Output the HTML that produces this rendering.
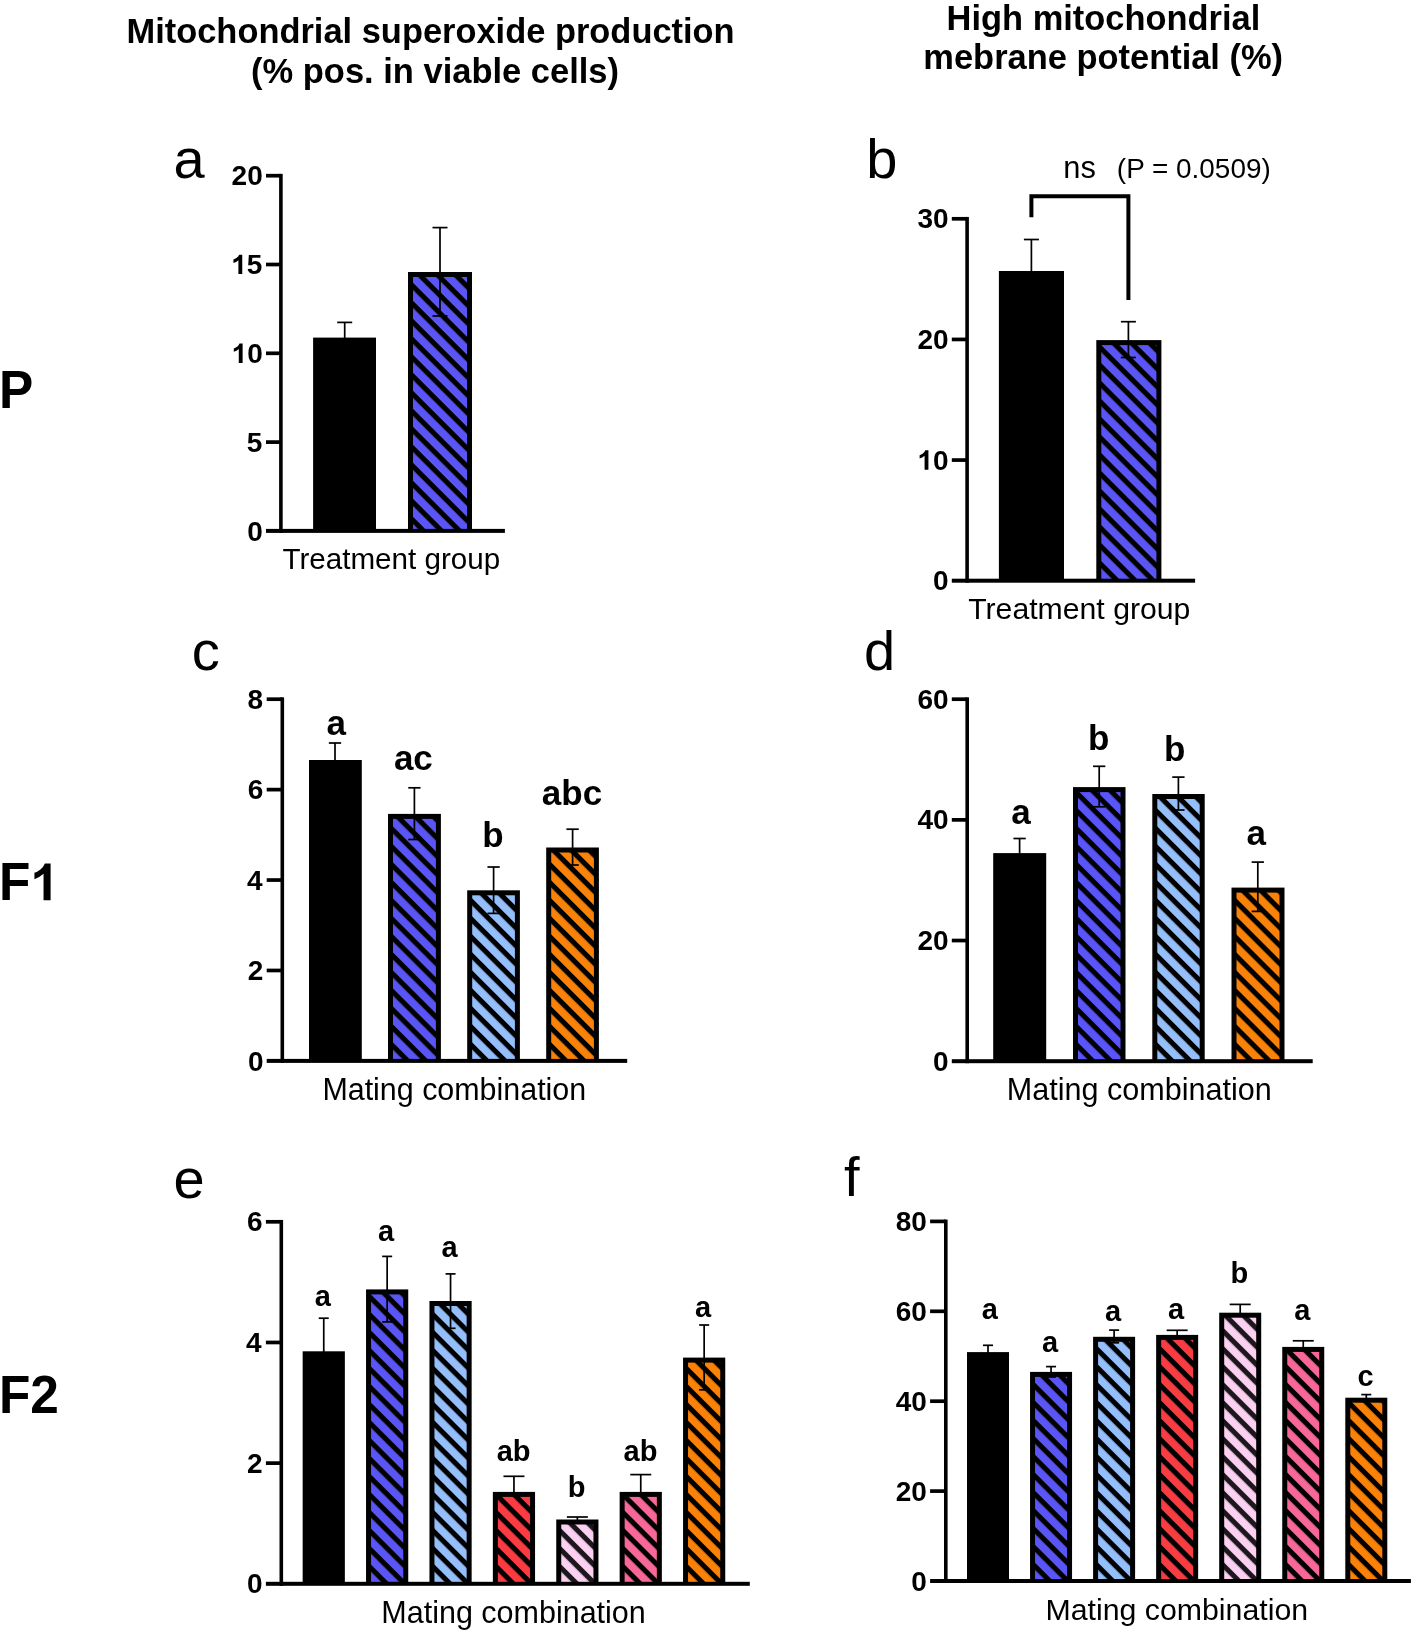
<!DOCTYPE html>
<html><head><meta charset="utf-8"><title>Figure</title>
<style>
html,body{margin:0;padding:0;background:#fff;}
svg{display:block;will-change:transform;}
text{font-family:"Liberation Sans",sans-serif;}
</style></head><body>
<svg width="1416" height="1634" viewBox="0 0 1416 1634">
<rect width="1416" height="1634" fill="#fff"/>
<text x="126.50" y="43.40" font-size="34.44" font-weight="bold" fill="#000">Mitochondrial superoxide production</text>
<text x="251.08" y="82.80" font-size="34.49" font-weight="bold" fill="#000">(% pos. in viable cells)</text>
<text x="946.60" y="29.70" font-size="34.44" font-weight="bold" fill="#000">High mitochondrial</text>
<text x="923.33" y="69.20" font-size="34.45" font-weight="bold" fill="#000">mebrane potential (%)</text>
<g transform="translate(0 407.8) scale(1 1.035) translate(0 -407.8)">
<text x="-1.04" y="407.80" font-size="51.40" font-weight="bold">P</text>
</g>
<g transform="translate(0 900.3) scale(1 1.035) translate(0 -900.3)">
<text x="-1.04" y="900.30" font-size="51.40" font-weight="bold">F</text>
<path transform="translate(30.36 900.30) scale(0.02510 0.02414)" d="M806 0H525V-1059Q371 -915 162 -846V-1101Q272 -1137 401 -1237.5Q530 -1338 578 -1472H806Z"/>
</g>
<g transform="translate(0 1412.9) scale(1 1.035) translate(0 -1412.9)">
<text x="-1.04" y="1412.90" font-size="51.40" font-weight="bold">F2</text>
</g>
<text x="173.59" y="178.00" font-size="56.00" font-weight="normal" fill="#000">a</text>
<text x="866.35" y="178.00" font-size="56.00" font-weight="normal" fill="#000">b</text>
<text x="191.85" y="670.40" font-size="56.00" font-weight="normal" fill="#000">c</text>
<text x="863.91" y="670.00" font-size="56.00" font-weight="normal" fill="#000">d</text>
<text x="173.43" y="1198.20" font-size="56.00" font-weight="normal" fill="#000">e</text>
<text x="843.88" y="1195.60" font-size="56.00" font-weight="normal" fill="#000">f</text>
<rect x="313.10" y="337.60" width="62.90" height="193.30" fill="#000"/>
<rect x="343.85" y="322.40" width="1.70" height="16.20" fill="#000"/>
<rect x="337.20" y="321.55" width="15.00" height="1.70" fill="#000"/>
<rect x="408.00" y="272.00" width="64.00" height="258.90" fill="#000"/>
<pattern id="h1" patternUnits="userSpaceOnUse" width="12.73" height="12.73" patternTransform="rotate(45) translate(0 9.695)"><rect width="12.73" height="12.73" fill="#5955f7"/><rect width="12.73" height="5.1" fill="#000"/></pattern>
<rect x="413.00" y="277.00" width="54.00" height="253.90" fill="url(#h1)"/>
<rect x="439.15" y="227.60" width="1.70" height="88.40" fill="#000"/>
<rect x="432.50" y="226.75" width="15.00" height="1.70" fill="#000"/>
<rect x="432.50" y="315.15" width="15.00" height="1.70" fill="#000"/>
<rect x="279.10" y="173.85" width="3.60" height="359.05" fill="#000"/>
<rect x="266.00" y="528.90" width="238.90" height="4.00" fill="#000"/>
<rect x="266.00" y="173.85" width="14.90" height="3.70" fill="#000"/>
<text x="231.60" y="185.30" font-size="28.00" font-weight="bold">20</text>
<rect x="266.00" y="262.65" width="14.90" height="3.70" fill="#000"/>
<path transform="translate(231.23 274.10) scale(0.01367 0.01315)" d="M806 0H525V-1059Q371 -915 162 -846V-1101Q272 -1137 401 -1237.5Q530 -1338 578 -1472H806Z"/>
<text x="246.81" y="274.10" font-size="28.00" font-weight="bold">5</text>
<rect x="266.00" y="351.45" width="14.90" height="3.70" fill="#000"/>
<path transform="translate(231.60 362.90) scale(0.01367 0.01315)" d="M806 0H525V-1059Q371 -915 162 -846V-1101Q272 -1137 401 -1237.5Q530 -1338 578 -1472H806Z"/>
<text x="247.18" y="362.90" font-size="28.00" font-weight="bold">0</text>
<rect x="266.00" y="440.25" width="14.90" height="3.70" fill="#000"/>
<text x="246.81" y="451.70" font-size="28.00" font-weight="bold">5</text>
<text x="247.18" y="540.50" font-size="28.00" font-weight="bold">0</text>
<text x="282.43" y="568.50" font-size="29.61" font-weight="normal" fill="#000">Treatment group</text>
<rect x="998.90" y="271.00" width="65.10" height="309.70" fill="#000"/>
<rect x="1030.55" y="239.50" width="1.70" height="32.50" fill="#000"/>
<rect x="1023.90" y="238.65" width="15.00" height="1.70" fill="#000"/>
<rect x="1096.30" y="340.10" width="65.10" height="240.60" fill="#000"/>
<pattern id="h2" patternUnits="userSpaceOnUse" width="12.73" height="12.73" patternTransform="rotate(45) translate(0 12.667)"><rect width="12.73" height="12.73" fill="#5955f7"/><rect width="12.73" height="5.1" fill="#000"/></pattern>
<rect x="1101.30" y="345.10" width="55.10" height="235.60" fill="url(#h2)"/>
<rect x="1127.55" y="321.70" width="1.70" height="35.80" fill="#000"/>
<rect x="1120.90" y="320.85" width="15.00" height="1.70" fill="#000"/>
<rect x="1120.90" y="356.65" width="15.00" height="1.70" fill="#000"/>
<rect x="965.30" y="216.95" width="3.60" height="365.75" fill="#000"/>
<rect x="951.80" y="578.70" width="243.30" height="4.00" fill="#000"/>
<rect x="951.80" y="216.95" width="15.30" height="3.70" fill="#000"/>
<text x="917.40" y="228.40" font-size="28.00" font-weight="bold">30</text>
<rect x="951.80" y="337.58" width="15.30" height="3.70" fill="#000"/>
<text x="917.40" y="349.04" font-size="28.00" font-weight="bold">20</text>
<rect x="951.80" y="458.22" width="15.30" height="3.70" fill="#000"/>
<path transform="translate(917.40 469.67) scale(0.01367 0.01315)" d="M806 0H525V-1059Q371 -915 162 -846V-1101Q272 -1137 401 -1237.5Q530 -1338 578 -1472H806Z"/>
<text x="932.98" y="469.67" font-size="28.00" font-weight="bold">0</text>
<text x="932.98" y="590.30" font-size="28.00" font-weight="bold">0</text>
<text x="968.22" y="619.30" font-size="30.21" font-weight="normal" fill="#000">Treatment group</text>
<path d="M1031.4 217.3 V196.2 H1128.4 V300" fill="none" stroke="#000" stroke-width="4"/>
<text x="1063.25" y="178.30" font-size="30.83" font-weight="normal" fill="#000">ns</text>
<text x="1116.87" y="178.30" font-size="27.91" font-weight="normal" fill="#000">(P = 0.0509)</text>
<rect x="309.00" y="760.00" width="52.80" height="300.90" fill="#000"/>
<rect x="334.15" y="743.00" width="1.70" height="18.00" fill="#000"/>
<rect x="328.85" y="742.15" width="12.30" height="1.70" fill="#000"/>
<rect x="388.00" y="813.90" width="52.90" height="247.00" fill="#000"/>
<pattern id="h3" patternUnits="userSpaceOnUse" width="12.73" height="12.73" patternTransform="rotate(45) translate(0 0.994)"><rect width="12.73" height="12.73" fill="#5955f7"/><rect width="12.73" height="5.1" fill="#000"/></pattern>
<rect x="393.00" y="818.90" width="42.90" height="242.00" fill="url(#h3)"/>
<rect x="413.55" y="787.80" width="1.70" height="51.70" fill="#000"/>
<rect x="408.25" y="786.95" width="12.30" height="1.70" fill="#000"/>
<rect x="408.25" y="838.65" width="12.30" height="1.70" fill="#000"/>
<rect x="467.20" y="890.30" width="52.70" height="170.60" fill="#000"/>
<pattern id="h4" patternUnits="userSpaceOnUse" width="12.73" height="12.73" patternTransform="rotate(45) translate(0 8.641)"><rect width="12.73" height="12.73" fill="#94bffa"/><rect width="12.73" height="5.1" fill="#000"/></pattern>
<rect x="472.20" y="895.30" width="42.70" height="165.60" fill="url(#h4)"/>
<rect x="492.75" y="867.00" width="1.70" height="46.40" fill="#000"/>
<rect x="487.45" y="866.15" width="12.30" height="1.70" fill="#000"/>
<rect x="487.45" y="912.55" width="12.30" height="1.70" fill="#000"/>
<rect x="546.20" y="847.50" width="52.70" height="213.40" fill="#000"/>
<pattern id="h5" patternUnits="userSpaceOnUse" width="12.73" height="12.73" patternTransform="rotate(45) translate(0 3.699)"><rect width="12.73" height="12.73" fill="#fb8208"/><rect width="12.73" height="5.1" fill="#000"/></pattern>
<rect x="551.20" y="852.50" width="42.70" height="208.40" fill="url(#h5)"/>
<rect x="571.75" y="829.20" width="1.70" height="35.80" fill="#000"/>
<rect x="566.45" y="828.35" width="12.30" height="1.70" fill="#000"/>
<rect x="566.45" y="864.15" width="12.30" height="1.70" fill="#000"/>
<rect x="280.50" y="697.35" width="3.60" height="365.55" fill="#000"/>
<rect x="266.70" y="1058.90" width="360.50" height="4.00" fill="#000"/>
<rect x="266.70" y="697.35" width="15.60" height="3.70" fill="#000"/>
<text x="247.59" y="708.80" font-size="28.00" font-weight="bold">8</text>
<rect x="266.70" y="787.77" width="15.60" height="3.70" fill="#000"/>
<text x="247.74" y="799.23" font-size="28.00" font-weight="bold">6</text>
<rect x="266.70" y="878.20" width="15.60" height="3.70" fill="#000"/>
<text x="246.88" y="889.65" font-size="28.00" font-weight="bold">4</text>
<rect x="266.70" y="968.63" width="15.60" height="3.70" fill="#000"/>
<text x="247.85" y="980.08" font-size="28.00" font-weight="bold">2</text>
<text x="247.88" y="1070.50" font-size="28.00" font-weight="bold">0</text>
<text x="322.40" y="1100.10" font-size="30.43" font-weight="normal" fill="#000">Mating combination</text>
<text x="326.44" y="734.60" font-size="35.00" font-weight="bold" fill="#000">a</text>
<text x="393.88" y="769.80" font-size="35.00" font-weight="bold" fill="#000">ac</text>
<text x="482.17" y="847.40" font-size="35.00" font-weight="bold" fill="#000">b</text>
<text x="541.79" y="804.70" font-size="35.00" font-weight="bold" fill="#000">abc</text>
<rect x="993.20" y="853.10" width="53.00" height="208.10" fill="#000"/>
<rect x="1018.75" y="838.50" width="1.70" height="15.60" fill="#000"/>
<rect x="1013.45" y="837.65" width="12.30" height="1.70" fill="#000"/>
<rect x="1073.00" y="787.10" width="52.50" height="274.10" fill="#000"/>
<pattern id="h6" patternUnits="userSpaceOnUse" width="12.73" height="12.73" patternTransform="rotate(45) translate(0 0.447)"><rect width="12.73" height="12.73" fill="#5955f7"/><rect width="12.73" height="5.1" fill="#000"/></pattern>
<rect x="1078.00" y="792.10" width="42.50" height="269.10" fill="url(#h6)"/>
<rect x="1098.35" y="766.30" width="1.70" height="40.50" fill="#000"/>
<rect x="1093.05" y="765.45" width="12.30" height="1.70" fill="#000"/>
<rect x="1093.05" y="805.95" width="12.30" height="1.70" fill="#000"/>
<rect x="1152.30" y="794.00" width="52.40" height="267.20" fill="#000"/>
<pattern id="h7" patternUnits="userSpaceOnUse" width="12.73" height="12.73" patternTransform="rotate(45) translate(0 8.023)"><rect width="12.73" height="12.73" fill="#94bffa"/><rect width="12.73" height="5.1" fill="#000"/></pattern>
<rect x="1157.30" y="799.00" width="42.40" height="262.20" fill="url(#h7)"/>
<rect x="1177.55" y="777.10" width="1.70" height="32.90" fill="#000"/>
<rect x="1172.25" y="776.25" width="12.30" height="1.70" fill="#000"/>
<rect x="1172.25" y="809.15" width="12.30" height="1.70" fill="#000"/>
<rect x="1231.50" y="887.60" width="53.00" height="173.60" fill="#000"/>
<pattern id="h8" patternUnits="userSpaceOnUse" width="12.73" height="12.73" patternTransform="rotate(45) translate(0 2.940)"><rect width="12.73" height="12.73" fill="#fb8208"/><rect width="12.73" height="5.1" fill="#000"/></pattern>
<rect x="1236.50" y="892.60" width="43.00" height="168.60" fill="url(#h8)"/>
<rect x="1256.95" y="862.10" width="1.70" height="49.30" fill="#000"/>
<rect x="1251.65" y="861.25" width="12.30" height="1.70" fill="#000"/>
<rect x="1251.65" y="910.55" width="12.30" height="1.70" fill="#000"/>
<rect x="965.40" y="697.35" width="3.60" height="365.85" fill="#000"/>
<rect x="951.80" y="1059.20" width="360.90" height="4.00" fill="#000"/>
<rect x="951.80" y="697.35" width="15.40" height="3.70" fill="#000"/>
<text x="917.40" y="708.80" font-size="28.00" font-weight="bold">60</text>
<rect x="951.80" y="818.02" width="15.40" height="3.70" fill="#000"/>
<text x="917.40" y="829.47" font-size="28.00" font-weight="bold">40</text>
<rect x="951.80" y="938.68" width="15.40" height="3.70" fill="#000"/>
<text x="917.40" y="950.14" font-size="28.00" font-weight="bold">20</text>
<text x="932.98" y="1070.80" font-size="28.00" font-weight="bold">0</text>
<text x="1006.79" y="1100.10" font-size="30.55" font-weight="normal" fill="#000">Mating combination</text>
<text x="1011.14" y="823.90" font-size="35.00" font-weight="bold" fill="#000">a</text>
<text x="1088.12" y="750.40" font-size="35.00" font-weight="bold" fill="#000">b</text>
<text x="1164.12" y="761.30" font-size="35.00" font-weight="bold" fill="#000">b</text>
<text x="1246.44" y="844.70" font-size="35.00" font-weight="bold" fill="#000">a</text>
<rect x="302.65" y="1351.30" width="42.20" height="232.50" fill="#000"/>
<rect x="322.90" y="1318.20" width="1.70" height="34.10" fill="#000"/>
<rect x="318.75" y="1317.35" width="10.00" height="1.70" fill="#000"/>
<rect x="366.05" y="1289.40" width="42.20" height="294.40" fill="#000"/>
<pattern id="h9" patternUnits="userSpaceOnUse" width="12.73" height="12.73" patternTransform="rotate(45) translate(0 3.810)"><rect width="12.73" height="12.73" fill="#5955f7"/><rect width="12.73" height="5.1" fill="#000"/></pattern>
<rect x="371.05" y="1294.40" width="32.20" height="289.40" fill="url(#h9)"/>
<rect x="386.30" y="1256.40" width="1.70" height="65.50" fill="#000"/>
<rect x="382.15" y="1255.55" width="10.00" height="1.70" fill="#000"/>
<rect x="382.15" y="1321.05" width="10.00" height="1.70" fill="#000"/>
<rect x="429.45" y="1301.00" width="42.20" height="282.80" fill="#000"/>
<pattern id="h10" patternUnits="userSpaceOnUse" width="12.73" height="12.73" patternTransform="rotate(45) translate(0 9.899)"><rect width="12.73" height="12.73" fill="#94bffa"/><rect width="12.73" height="5.1" fill="#000"/></pattern>
<rect x="434.45" y="1306.00" width="32.20" height="277.80" fill="url(#h10)"/>
<rect x="449.70" y="1273.90" width="1.70" height="54.40" fill="#000"/>
<rect x="445.55" y="1273.05" width="10.00" height="1.70" fill="#000"/>
<rect x="445.55" y="1327.45" width="10.00" height="1.70" fill="#000"/>
<rect x="492.85" y="1491.90" width="42.20" height="91.90" fill="#000"/>
<pattern id="h11" patternUnits="userSpaceOnUse" width="12.73" height="12.73" patternTransform="rotate(45) translate(0 3.258)"><rect width="12.73" height="12.73" fill="#f93c42"/><rect width="12.73" height="5.1" fill="#000"/></pattern>
<rect x="497.85" y="1496.90" width="32.20" height="86.90" fill="url(#h11)"/>
<rect x="513.10" y="1476.30" width="1.70" height="16.60" fill="#000"/>
<rect x="503.45" y="1475.45" width="21.00" height="1.70" fill="#000"/>
<rect x="556.25" y="1519.50" width="42.20" height="64.30" fill="#000"/>
<pattern id="h12" patternUnits="userSpaceOnUse" width="12.73" height="12.73" patternTransform="rotate(45) translate(0 9.348)"><rect width="12.73" height="12.73" fill="#fbd0f0"/><rect width="12.73" height="5.1" fill="#1c171d"/></pattern>
<rect x="561.25" y="1524.50" width="32.20" height="59.30" fill="url(#h12)"/>
<rect x="576.50" y="1517.00" width="1.70" height="3.50" fill="#000"/>
<rect x="566.85" y="1516.15" width="21.00" height="1.70" fill="#000"/>
<rect x="619.65" y="1491.90" width="42.20" height="91.90" fill="#000"/>
<pattern id="h13" patternUnits="userSpaceOnUse" width="12.73" height="12.73" patternTransform="rotate(45) translate(0 2.707)"><rect width="12.73" height="12.73" fill="#f96698"/><rect width="12.73" height="5.1" fill="#000"/></pattern>
<rect x="624.65" y="1496.90" width="32.20" height="86.90" fill="url(#h13)"/>
<rect x="639.90" y="1474.60" width="1.70" height="18.30" fill="#000"/>
<rect x="630.25" y="1473.75" width="21.00" height="1.70" fill="#000"/>
<rect x="683.05" y="1357.60" width="42.20" height="226.20" fill="#000"/>
<pattern id="h14" patternUnits="userSpaceOnUse" width="12.73" height="12.73" patternTransform="rotate(45) translate(0 8.797)"><rect width="12.73" height="12.73" fill="#fb8208"/><rect width="12.73" height="5.1" fill="#000"/></pattern>
<rect x="688.05" y="1362.60" width="32.20" height="221.20" fill="url(#h14)"/>
<rect x="703.30" y="1325.00" width="1.70" height="64.80" fill="#000"/>
<rect x="699.15" y="1324.15" width="10.00" height="1.70" fill="#000"/>
<rect x="699.15" y="1388.95" width="10.00" height="1.70" fill="#000"/>
<rect x="279.50" y="1219.95" width="3.60" height="365.85" fill="#000"/>
<rect x="265.90" y="1581.80" width="483.90" height="4.00" fill="#000"/>
<rect x="265.90" y="1219.95" width="15.40" height="3.70" fill="#000"/>
<text x="246.94" y="1231.40" font-size="28.00" font-weight="bold">6</text>
<rect x="265.90" y="1340.62" width="15.40" height="3.70" fill="#000"/>
<text x="246.08" y="1352.07" font-size="28.00" font-weight="bold">4</text>
<rect x="265.90" y="1461.28" width="15.40" height="3.70" fill="#000"/>
<text x="247.05" y="1472.74" font-size="28.00" font-weight="bold">2</text>
<text x="247.08" y="1593.40" font-size="28.00" font-weight="bold">0</text>
<text x="381.30" y="1622.60" font-size="30.51" font-weight="normal" fill="#000">Mating combination</text>
<text x="314.67" y="1305.80" font-size="29.00" font-weight="bold">a</text>
<text x="378.07" y="1241.30" font-size="29.00" font-weight="bold">a</text>
<text x="441.47" y="1257.10" font-size="29.00" font-weight="bold">a</text>
<text x="496.70" y="1461.00" font-size="29.00" font-weight="bold">ab</text>
<text x="567.63" y="1496.90" font-size="29.00" font-weight="bold">b</text>
<text x="623.50" y="1461.00" font-size="29.00" font-weight="bold">ab</text>
<text x="695.07" y="1316.50" font-size="29.00" font-weight="bold">a</text>
<rect x="967.00" y="1352.10" width="42.00" height="228.90" fill="#000"/>
<rect x="987.15" y="1345.30" width="1.70" height="7.80" fill="#000"/>
<rect x="983.00" y="1344.45" width="10.00" height="1.70" fill="#000"/>
<rect x="1030.05" y="1371.90" width="42.00" height="209.10" fill="#000"/>
<pattern id="h15" patternUnits="userSpaceOnUse" width="12.73" height="12.73" patternTransform="rotate(45) translate(0 3.947)"><rect width="12.73" height="12.73" fill="#5955f7"/><rect width="12.73" height="5.1" fill="#000"/></pattern>
<rect x="1035.05" y="1376.90" width="32.00" height="204.10" fill="url(#h15)"/>
<rect x="1050.20" y="1366.60" width="1.70" height="10.40" fill="#000"/>
<rect x="1046.05" y="1365.75" width="10.00" height="1.70" fill="#000"/>
<rect x="1046.05" y="1376.15" width="10.00" height="1.70" fill="#000"/>
<rect x="1093.10" y="1336.80" width="42.00" height="244.20" fill="#000"/>
<pattern id="h16" patternUnits="userSpaceOnUse" width="12.73" height="12.73" patternTransform="rotate(45) translate(0 10.284)"><rect width="12.73" height="12.73" fill="#94bffa"/><rect width="12.73" height="5.1" fill="#000"/></pattern>
<rect x="1098.10" y="1341.80" width="32.00" height="239.20" fill="url(#h16)"/>
<rect x="1113.25" y="1330.10" width="1.70" height="12.70" fill="#000"/>
<rect x="1109.10" y="1329.25" width="10.00" height="1.70" fill="#000"/>
<rect x="1109.10" y="1341.95" width="10.00" height="1.70" fill="#000"/>
<rect x="1156.15" y="1334.90" width="42.00" height="246.10" fill="#000"/>
<pattern id="h17" patternUnits="userSpaceOnUse" width="12.73" height="12.73" patternTransform="rotate(45) translate(0 3.891)"><rect width="12.73" height="12.73" fill="#f93c42"/><rect width="12.73" height="5.1" fill="#000"/></pattern>
<rect x="1161.15" y="1339.90" width="32.00" height="241.10" fill="url(#h17)"/>
<rect x="1176.30" y="1330.30" width="1.70" height="5.60" fill="#000"/>
<rect x="1166.65" y="1329.45" width="21.00" height="1.70" fill="#000"/>
<rect x="1219.20" y="1312.70" width="42.00" height="268.30" fill="#000"/>
<pattern id="h18" patternUnits="userSpaceOnUse" width="12.73" height="12.73" patternTransform="rotate(45) translate(0 10.228)"><rect width="12.73" height="12.73" fill="#fbd0f0"/><rect width="12.73" height="5.1" fill="#1c171d"/></pattern>
<rect x="1224.20" y="1317.70" width="32.00" height="263.30" fill="url(#h18)"/>
<rect x="1239.35" y="1304.40" width="1.70" height="9.30" fill="#000"/>
<rect x="1229.70" y="1303.55" width="21.00" height="1.70" fill="#000"/>
<rect x="1282.25" y="1346.90" width="42.00" height="234.10" fill="#000"/>
<pattern id="h19" patternUnits="userSpaceOnUse" width="12.73" height="12.73" patternTransform="rotate(45) translate(0 3.835)"><rect width="12.73" height="12.73" fill="#f96698"/><rect width="12.73" height="5.1" fill="#000"/></pattern>
<rect x="1287.25" y="1351.90" width="32.00" height="229.10" fill="url(#h19)"/>
<rect x="1302.40" y="1340.80" width="1.70" height="7.10" fill="#000"/>
<rect x="1292.75" y="1339.95" width="21.00" height="1.70" fill="#000"/>
<rect x="1345.30" y="1397.70" width="42.00" height="183.30" fill="#000"/>
<pattern id="h20" patternUnits="userSpaceOnUse" width="12.73" height="12.73" patternTransform="rotate(45) translate(0 10.171)"><rect width="12.73" height="12.73" fill="#fb8208"/><rect width="12.73" height="5.1" fill="#000"/></pattern>
<rect x="1350.30" y="1402.70" width="32.00" height="178.30" fill="url(#h20)"/>
<rect x="1365.45" y="1394.60" width="1.70" height="4.10" fill="#000"/>
<rect x="1361.30" y="1393.75" width="10.00" height="1.70" fill="#000"/>
<rect x="944.00" y="1219.55" width="3.60" height="363.45" fill="#000"/>
<rect x="930.10" y="1579.00" width="480.80" height="4.00" fill="#000"/>
<rect x="930.10" y="1219.55" width="15.70" height="3.70" fill="#000"/>
<text x="895.70" y="1231.00" font-size="28.00" font-weight="bold">80</text>
<rect x="930.10" y="1309.45" width="15.70" height="3.70" fill="#000"/>
<text x="895.70" y="1320.90" font-size="28.00" font-weight="bold">60</text>
<rect x="930.10" y="1399.35" width="15.70" height="3.70" fill="#000"/>
<text x="895.70" y="1410.80" font-size="28.00" font-weight="bold">40</text>
<rect x="930.10" y="1489.25" width="15.70" height="3.70" fill="#000"/>
<text x="895.70" y="1500.70" font-size="28.00" font-weight="bold">20</text>
<text x="911.28" y="1590.60" font-size="28.00" font-weight="bold">0</text>
<text x="1045.41" y="1620.00" font-size="30.31" font-weight="normal" fill="#000">Mating combination</text>
<text x="981.72" y="1319.00" font-size="29.00" font-weight="bold">a</text>
<text x="1041.97" y="1351.50" font-size="29.00" font-weight="bold">a</text>
<text x="1105.02" y="1320.70" font-size="29.00" font-weight="bold">a</text>
<text x="1168.07" y="1318.50" font-size="29.00" font-weight="bold">a</text>
<text x="1230.48" y="1282.70" font-size="29.00" font-weight="bold">b</text>
<text x="1294.17" y="1319.90" font-size="29.00" font-weight="bold">a</text>
<text x="1357.59" y="1386.40" font-size="29.00" font-weight="bold">c</text>
</svg>
</body></html>
